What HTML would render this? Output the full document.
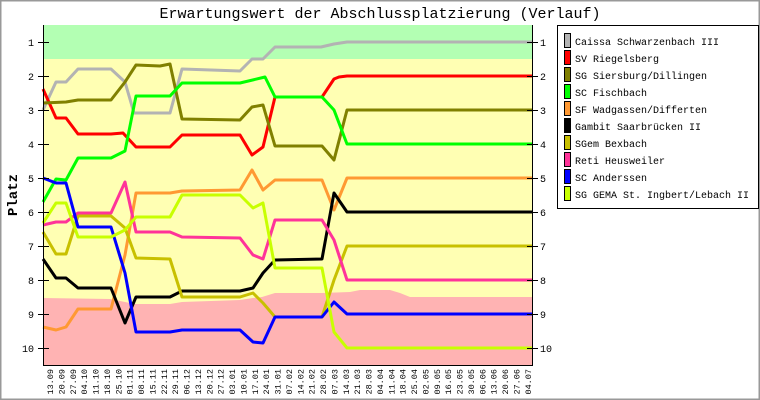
<!DOCTYPE html>
<html><head><meta charset="utf-8"><style>
body{margin:0;background:#fff}
svg{display:block}
text{font-family:"Liberation Mono","DejaVu Sans Mono",monospace}
</style></head><body>
<svg width="760" height="400" xmlns="http://www.w3.org/2000/svg">
<rect x="0.5" y="0.5" width="759" height="399" fill="#fff" stroke="#999" stroke-width="2"/>
<text x="380" y="18" font-size="15" text-anchor="middle">Erwartungswert der Abschlussplatzierung (Verlauf)</text>
<rect x="43" y="25" width="489" height="34" fill="#b3ffb3"/>
<rect x="43" y="59" width="489" height="306" fill="#ffffb3"/>
<polygon fill="#ffb3b3" points="43,298 110,299 125,302 135,304 170,304 182,302 240,300 253,298 262,297 275,293 322,293 350,292 360,290 390,290 400,293 410,297 532,297 532,365 43,365"/>
<g fill="none" stroke-width="3" stroke-linejoin="round">
<polyline stroke="#b3b3b3" points="43,110 56,82 66,82 78,69 111,69 125,82 134,113 170,113 182,69 240,71 252,59 263,59 275,47 321,47 334,44 347,42 532,42"/>
<polyline stroke="#ff0000" points="43,89 56,118 66,118 78,134 111,134 123,133 136,147 170,147 182,135 240,135 252,155 263,147 275,97 322,97 334,79 339,77 347,76 532,76"/>
<polyline stroke="#808000" points="43,103 66,102 78,100 111,100 125,82 136,65 160,66 170,64 182,119 240,120 252,107 263,105 275,146 322,146 334,160 347,110 532,110"/>
<polyline stroke="#00ff00" points="43,202 56,179 66,180 78,158 111,158 125,151 136,96 170,96 182,83 240,83 265,77 275,97 322,97 334,110 347,144 532,144"/>
<polyline stroke="#ff9933" points="43,327 56,330 66,327 78,309 111,309 125,255 136,193 170,193 182,191 240,190 252,170 263,190 275,180 322,180 334,210 347,178 532,178"/>
<polyline stroke="#000000" points="43,259 56,278 66,278 78,288 111,288 125,323 136,297 170,297 182,291 240,291 253,288 263,273 275,260 322,259 334,193 347,212 532,212"/>
<polyline stroke="#c8c000" points="43,232 56,254 66,254 78,216 111,216 125,228 136,258 170,259 182,297 240,297 253,293 263,303 275,317 322,317 334,280 347,246 532,246"/>
<polyline stroke="#ff3399" points="43,225 56,222 66,222 78,213 111,213 125,182 136,232 170,232 182,237 240,238 253,255 263,259 275,220 322,220 334,240 347,280 532,280"/>
<polyline stroke="#0000ff" points="43,178 56,183 66,183 78,227 111,227 125,273 136,332 170,332 182,330 240,330 253,342 263,343 275,317 322,317 334,302 347,314 532,314"/>
<polyline stroke="#c8ff00" points="43,223 56,203 66,203 78,237 111,237 125,230 136,217 170,217 182,195 240,195 253,208 263,203 275,268 322,268 334,332 347,348 532,348"/>
</g>
<g stroke="#000" stroke-width="1">
<line x1="43.5" y1="25" x2="43.5" y2="365"/>
<line x1="532.5" y1="25" x2="532.5" y2="365"/>
<line x1="43" y1="365.5" x2="533" y2="365.5"/>
<g>
<line x1="38" y1="42.5" x2="49" y2="42.5"/><line x1="38" y1="76.5" x2="49" y2="76.5"/><line x1="38" y1="110.5" x2="49" y2="110.5"/><line x1="38" y1="144.5" x2="49" y2="144.5"/><line x1="38" y1="178.5" x2="49" y2="178.5"/><line x1="38" y1="212.5" x2="49" y2="212.5"/><line x1="38" y1="246.5" x2="49" y2="246.5"/><line x1="38" y1="280.5" x2="49" y2="280.5"/><line x1="38" y1="314.5" x2="49" y2="314.5"/><line x1="38" y1="348.5" x2="49" y2="348.5"/>
</g>
<g transform="translate(489,0)">
<line x1="38" y1="42.5" x2="49" y2="42.5"/><line x1="38" y1="76.5" x2="49" y2="76.5"/><line x1="38" y1="110.5" x2="49" y2="110.5"/><line x1="38" y1="144.5" x2="49" y2="144.5"/><line x1="38" y1="178.5" x2="49" y2="178.5"/><line x1="38" y1="212.5" x2="49" y2="212.5"/><line x1="38" y1="246.5" x2="49" y2="246.5"/><line x1="38" y1="280.5" x2="49" y2="280.5"/><line x1="38" y1="314.5" x2="49" y2="314.5"/><line x1="38" y1="348.5" x2="49" y2="348.5"/>
</g>
</g>
<g font-size="10" text-anchor="end">
<text x="34" y="46">1</text><text x="34" y="80">2</text><text x="34" y="114">3</text><text x="34" y="148">4</text><text x="34" y="182">5</text><text x="34" y="216">6</text><text x="34" y="250">7</text><text x="34" y="284">8</text><text x="34" y="318">9</text><text x="34" y="352">10</text>
</g>
<g font-size="10" text-anchor="start">
<text x="540" y="46">1</text><text x="540" y="80">2</text><text x="540" y="114">3</text><text x="540" y="148">4</text><text x="540" y="182">5</text><text x="540" y="216">6</text><text x="540" y="250">7</text><text x="540" y="284">8</text><text x="540" y="318">9</text><text x="540" y="352">10</text>
</g>
<text transform="translate(17,195) rotate(-90)" font-size="14" font-weight="bold" text-anchor="middle">Platz</text>
<g font-size="8.5" text-anchor="end">
<text transform="translate(53,369) rotate(-90)">13.09</text>
<text transform="translate(64.4,369) rotate(-90)">20.09</text>
<text transform="translate(75.8,369) rotate(-90)">27.09</text>
<text transform="translate(87.1,369) rotate(-90)">04.10</text>
<text transform="translate(98.5,369) rotate(-90)">11.10</text>
<text transform="translate(109.9,369) rotate(-90)">18.10</text>
<text transform="translate(121.3,369) rotate(-90)">25.10</text>
<text transform="translate(132.6,369) rotate(-90)">01.11</text>
<text transform="translate(144,369) rotate(-90)">08.11</text>
<text transform="translate(155.4,369) rotate(-90)">15.11</text>
<text transform="translate(166.8,369) rotate(-90)">22.11</text>
<text transform="translate(178.1,369) rotate(-90)">29.11</text>
<text transform="translate(189.5,369) rotate(-90)">06.12</text>
<text transform="translate(200.9,369) rotate(-90)">13.12</text>
<text transform="translate(212.3,369) rotate(-90)">20.12</text>
<text transform="translate(223.6,369) rotate(-90)">27.12</text>
<text transform="translate(235,369) rotate(-90)">03.01</text>
<text transform="translate(246.4,369) rotate(-90)">10.01</text>
<text transform="translate(257.8,369) rotate(-90)">17.01</text>
<text transform="translate(269.1,369) rotate(-90)">24.01</text>
<text transform="translate(280.5,369) rotate(-90)">31.01</text>
<text transform="translate(291.9,369) rotate(-90)">07.02</text>
<text transform="translate(303.3,369) rotate(-90)">14.02</text>
<text transform="translate(314.6,369) rotate(-90)">21.02</text>
<text transform="translate(326,369) rotate(-90)">28.02</text>
<text transform="translate(337.4,369) rotate(-90)">07.03</text>
<text transform="translate(348.8,369) rotate(-90)">14.03</text>
<text transform="translate(360.1,369) rotate(-90)">21.03</text>
<text transform="translate(371.5,369) rotate(-90)">28.03</text>
<text transform="translate(382.9,369) rotate(-90)">04.04</text>
<text transform="translate(394.3,369) rotate(-90)">11.04</text>
<text transform="translate(405.6,369) rotate(-90)">18.04</text>
<text transform="translate(417,369) rotate(-90)">25.04</text>
<text transform="translate(428.4,369) rotate(-90)">02.05</text>
<text transform="translate(439.8,369) rotate(-90)">09.05</text>
<text transform="translate(451.1,369) rotate(-90)">16.05</text>
<text transform="translate(462.5,369) rotate(-90)">23.05</text>
<text transform="translate(473.9,369) rotate(-90)">30.05</text>
<text transform="translate(485.3,369) rotate(-90)">06.06</text>
<text transform="translate(496.6,369) rotate(-90)">13.06</text>
<text transform="translate(508,369) rotate(-90)">20.06</text>
<text transform="translate(519.4,369) rotate(-90)">27.06</text>
<text transform="translate(530.8,369) rotate(-90)">04.07</text>
</g>
<rect x="557.5" y="25.5" width="201" height="183" fill="#fff" stroke="#000"/>
<g stroke="#000" stroke-width="1">
<rect x="564.5" y="33.5" width="6" height="14" fill="#b3b3b3"/>
<rect x="564.5" y="50.5" width="6" height="14" fill="#ff0000"/>
<rect x="564.5" y="67.5" width="6" height="14" fill="#808000"/>
<rect x="564.5" y="84.5" width="6" height="14" fill="#00ff00"/>
<rect x="564.5" y="101.5" width="6" height="14" fill="#ff9933"/>
<rect x="564.5" y="118.5" width="6" height="14" fill="#000000"/>
<rect x="564.5" y="135.5" width="6" height="14" fill="#c8c000"/>
<rect x="564.5" y="152.5" width="6" height="14" fill="#ff3399"/>
<rect x="564.5" y="169.5" width="6" height="14" fill="#0000ff"/>
<rect x="564.5" y="186.5" width="6" height="14" fill="#c8ff00"/>
</g>
<g font-size="10">
<text x="575" y="45">Caissa Schwarzenbach III</text>
<text x="575" y="62">SV Riegelsberg</text>
<text x="575" y="79">SG Siersburg/Dillingen</text>
<text x="575" y="96">SC Fischbach</text>
<text x="575" y="113">SF Wadgassen/Differten</text>
<text x="575" y="130">Gambit Saarbrücken II</text>
<text x="575" y="147">SGem Bexbach</text>
<text x="575" y="164">Reti Heusweiler</text>
<text x="575" y="181">SC Anderssen</text>
<text x="575" y="198">SG GEMA St. Ingbert/Lebach II</text>
</g>
</svg>
</body></html>
